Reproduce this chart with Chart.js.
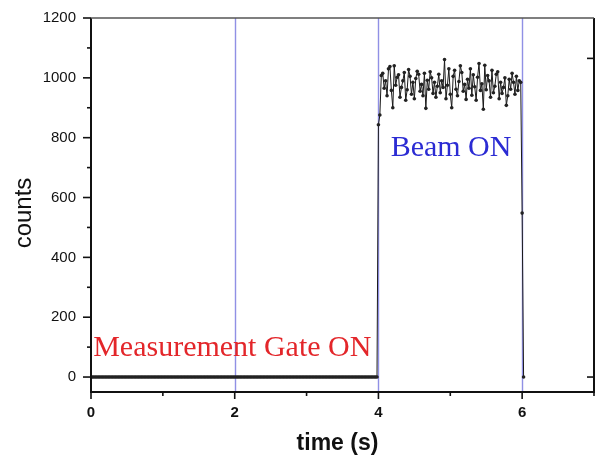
<!DOCTYPE html>
<html><head><meta charset="utf-8">
<script src="https://cdn.jsdelivr.net/npm/chart.js@4/dist/chart.umd.min.js"></script>
<style>html,body{margin:0;padding:0;background:#fff;overflow:hidden}</style>
</head><body>
<canvas id="c" width="598" height="459"></canvas>
<script>
// ---- data ----
const sampleStep = 0.02; // seconds between samples
const gateCounts = [
  0,0,0,0,0,0,0,0,0,0,0,0,0,0,0,0,0,0,0,0,
  0,0,0,0,0,0,0,0,0,0,0,0,0,0,0,0,0,0,0,0,
  0,0,0,0,0,0,0,0,0,0,0,0,0,0,0,0,0,0,0,0,
  0,0,0,0,0,0,0,0,0,0,0,0,0,0,0,0,0,0,0,0,
  0,0,0,0,0,0,0,0,0,0,0,0,0,0,0,0,0,0,0,0,
  0,0,0,0,0,0,0,0,0,0,0,0,0,0,0,0,0,0,0,0,
  0,0,0,0,0,0,0,0,0,0,0,0,0,0,0,0,0,0,0,0,
  0,0,0,0,0,0,0,0,0,0,0,0,0,0,0,0,0,0,0,0,
  0,0,0,0,0,0,0,0,0,0,0,0,0,0,0,0,0,0,0,0,
  0,0,0,0,0,0,0,0,0,0,0,0,0,0,0,0,0,0,0,0
];
const beamCounts = [
  843, 876, 1008, 1015, 965, 990, 940, 1030, 1038, 958,
  900, 1040, 975, 1002, 1010, 935, 968, 990, 1018, 925,
  960, 1028, 1005, 945, 985, 930, 998, 1022, 1012, 955,
  978, 940, 1015, 898, 992, 962, 1020, 1000, 948, 985,
  935, 972, 1012, 950, 990, 968, 1061, 930, 975, 1030,
  945, 900, 1005, 1025, 962, 940, 988, 1040, 1018, 955,
  978, 928, 995, 965, 1030, 942, 1010, 970, 925, 1002,
  1048, 958, 980, 895, 1042, 960, 1008, 990, 935, 1025,
  950, 972, 1012, 1020, 930, 985, 948, 968, 1000, 908,
  940, 995, 962, 1015, 985, 945, 1005, 958, 990, 985
];
const fallCounts = [548, 0];
const xTickValues = [0, 2, 4, 6];
const xMinorTickValues = [1, 3, 5, 7];
const yTickValues = [0, 200, 400, 600, 800, 1000, 1200];
const yMinorTickValues = [100, 300, 500, 700, 900, 1100];
const rightTickValues = [0, 1065];
const markerTimes = [2, 4, 6];
const xTitle = 'time (s)';
const yTitle = 'counts';
const gateLabel = 'Measurement Gate ON';
const beamLabel = 'Beam ON';

// ---- build points ----
const allCounts = gateCounts.concat(beamCounts, fallCounts);
const points = allCounts.map((v, i) => ({ x: +(i * sampleStep).toFixed(2), y: v }));

const axesPlugin = {
  id: 'originAxes',
  beforeDatasetsDraw(chart) {
    const { ctx, chartArea: a, scales: { x } } = chart;
    ctx.save();
    ctx.strokeStyle = 'rgba(125,125,225,0.85)';
    ctx.lineWidth = 1.4;
    markerTimes.forEach(t => {
      const px = Math.round(x.getPixelForValue(t)) + 0.5;
      ctx.beginPath(); ctx.moveTo(px, a.top); ctx.lineTo(px, a.bottom); ctx.stroke();
    });
    ctx.restore();
  },
  afterDatasetsDraw(chart) {
    const { ctx, chartArea: a, scales: { x, y } } = chart;
    ctx.save();
    // box
    ctx.strokeStyle = '#111';
    ctx.lineWidth = 2;
    ctx.beginPath();
    ctx.moveTo(a.left, a.top); ctx.lineTo(a.left, a.bottom + 1); // left
    ctx.moveTo(a.left - 1, a.bottom); ctx.lineTo(a.right + 1, a.bottom); // bottom
    ctx.moveTo(a.right, a.top); ctx.lineTo(a.right, a.bottom + 1); // right
    ctx.stroke();
    ctx.strokeStyle = '#555';
    ctx.lineWidth = 1.5;
    ctx.beginPath(); ctx.moveTo(a.left, a.top); ctx.lineTo(a.right, a.top); ctx.stroke();

    ctx.strokeStyle = '#111';
    ctx.lineWidth = 1.6;
    // y ticks
    yTickValues.forEach(v => {
      const py = y.getPixelForValue(v);
      ctx.beginPath(); ctx.moveTo(a.left - 8, py); ctx.lineTo(a.left, py); ctx.stroke();
    });
    yMinorTickValues.forEach(v => {
      const py = y.getPixelForValue(v);
      ctx.beginPath(); ctx.moveTo(a.left - 4, py); ctx.lineTo(a.left + 1, py); ctx.stroke();
    });
    rightTickValues.forEach(v => {
      const py = y.getPixelForValue(v);
      ctx.beginPath(); ctx.moveTo(a.right - 7, py); ctx.lineTo(a.right, py); ctx.stroke();
    });
    // x ticks
    xTickValues.forEach(v => {
      const px = x.getPixelForValue(v);
      ctx.beginPath(); ctx.moveTo(px, a.bottom); ctx.lineTo(px, a.bottom + 7); ctx.stroke();
    });
    xMinorTickValues.forEach(v => {
      const px = x.getPixelForValue(v);
      ctx.beginPath(); ctx.moveTo(px, a.bottom); ctx.lineTo(px, a.bottom + 4); ctx.stroke();
    });

    // tick labels
    ctx.fillStyle = '#111';
    ctx.font = '15px "Liberation Sans", Arial, sans-serif';
    ctx.textAlign = 'right'; ctx.textBaseline = 'middle';
    yTickValues.forEach(v => ctx.fillText(String(v), a.left - 15, y.getPixelForValue(v)));
    ctx.font = 'bold 15px "Liberation Sans", Arial, sans-serif';
    ctx.textAlign = 'center'; ctx.textBaseline = 'middle';
    xTickValues.forEach(v => ctx.fillText(String(v), x.getPixelForValue(v), a.bottom + 21));

    // titles
    ctx.font = 'bold 23px "Liberation Sans", Arial, sans-serif';
    ctx.fillText(xTitle, (a.left + a.right) / 2 - 5, a.bottom + 52);
    ctx.save();
    ctx.translate(24, 213);
    ctx.rotate(-Math.PI / 2);
    ctx.font = '24px "Liberation Sans", Arial, sans-serif';
    ctx.fillText(yTitle, 0, 0);
    ctx.restore();

    // annotations
    ctx.font = '30px "Liberation Serif", "Times New Roman", serif';
    ctx.textAlign = 'left'; ctx.textBaseline = 'alphabetic';
    ctx.fillStyle = '#e3262a';
    ctx.fillText(gateLabel, x.getPixelForValue(0.03), y.getPixelForValue(70));
    ctx.fillStyle = '#2b2bd3';
    ctx.fillText(beamLabel, x.getPixelForValue(4.17), y.getPixelForValue(740));
    ctx.restore();
  }
};

new Chart(document.getElementById('c'), {
  type: 'scatter',
  data: {
    datasets: [{
      data: points,
      showLine: true,
      borderColor: '#1a1a1a',
      borderWidth: 1,
      pointRadius: 1.8,
      pointBackgroundColor: '#222',
      pointBorderWidth: 0,
      tension: 0
    }]
  },
  options: {
    responsive: false,
    animation: false,
    events: [],
    layout: { padding: { left: 91, right: 3, top: 18, bottom: 67 } },
    plugins: { legend: { display: false }, tooltip: { enabled: false } },
    scales: {
      x: { type: 'linear', min: 0, max: 7, display: false },
      y: { type: 'linear', min: -50, max: 1200, display: false }
    }
  },
  plugins: [axesPlugin]
});
</script>
</body></html>
